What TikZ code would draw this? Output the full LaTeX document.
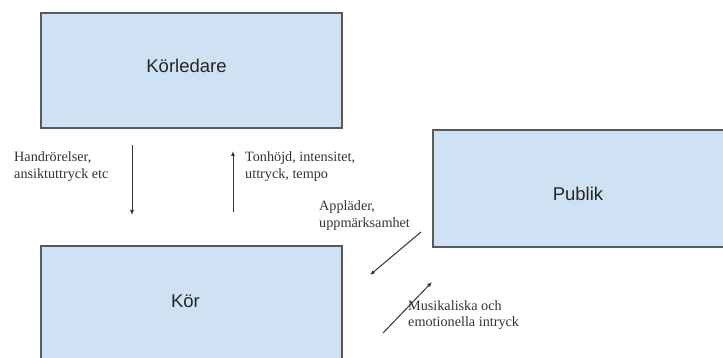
\documentclass[tikz,border=0pt]{standalone}
\usepackage{fontspec}
\setmainfont{Liberation Serif}
\newfontfamily\arialfont{Liberation Sans}
\usetikzlibrary{arrows.meta}
\definecolor{boxfill}{HTML}{CFE2F3}
\definecolor{boxdraw}{HTML}{595959}
\definecolor{arrowcol}{HTML}{333333}
\begin{document}
\begin{tikzpicture}[x=1pt,y=-1pt,
  actor/.style={draw=boxdraw, fill=boxfill, line width=1.2pt, inner sep=0pt},
  actorlabel/.style={font=\arialfont\fontsize{18.5}{20}\selectfont, text=black!85, inner sep=0pt},
  flow/.style={draw=arrowcol, line width=1pt, -{Latex[length=5pt,width=4pt]}},
  note/.style={inner sep=0pt, align=left, anchor=west, text=black!80,
    font=\fontsize{14.2}{16.5}\selectfont}]
\useasboundingbox (0,0) rectangle (723,358);
\clip (0,0) rectangle (723,358);
% boxes
\node[actor, minimum width=301pt, minimum height=115pt,
  label={[actorlabel, xshift=-5pt, yshift=5pt]center:Körledare}] (kl) at (191.5,70.5) {};
\node[actor, minimum width=301pt, minimum height=124pt,
  label={[actorlabel, xshift=-6pt, yshift=7pt]center:Kör}] (kor) at (191.5,308) {};
\node[actor, minimum width=296pt, minimum height=117pt,
  label={[actorlabel, xshift=-3pt, yshift=-5pt]center:Publik}] (pub) at (581,188.5) {};
% arrow end points
\coordinate (d1) at (132,145);
\coordinate (d2) at (132,215);
\coordinate (u1) at (233,212);
\coordinate (u2) at (233,151);
\coordinate (p1) at (421,232);
\coordinate (p2) at (370,275);
\coordinate (m1) at (383,333);
\coordinate (m2) at (432,282);
% connectors
\draw[flow] (d1) -- (d2);
\draw[flow] (u1) -- (u2);
\draw[flow] (p1) -- (p2);
\draw[flow] (m1) -- (m2);
% labels
\node[note] (t1) at (14,166.5) {Handrörelser,\\ansiktuttryck etc};
\node[note] (t2) at (245,166.5) {Tonhöjd, intensitet,\\uttryck, tempo};
\node[note] (t3) at (319,215.5) {Appläder,\\uppmärksamhet};
\node[note] (t4) at (408,315) {Musikaliska och\\emotionella intryck};
\end{tikzpicture}
\end{document}
